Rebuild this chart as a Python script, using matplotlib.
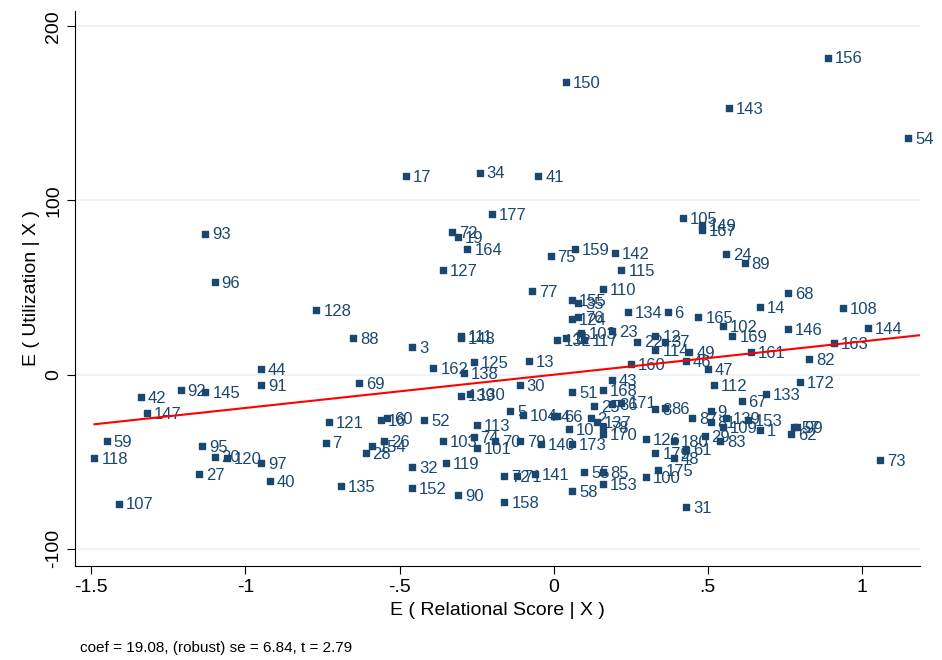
import numpy as np
import matplotlib.pyplot as plt

plt.rcParams['font.family'] = ['Liberation Sans', 'DejaVu Sans']

# added-variable plot: residuals of Utilization vs residuals of Relational Score
labels = [156, 150, 143, 54, 17, 34, 41, 177, 93, 105, 149, 167, 72, 19, 164, 159, 75, 142, 24, 89,
          115, 127, 96, 110, 77, 68, 14, 108, 128, 155, 35, 124, 76, 134, 6, 165, 102, 146, 144, 163,
          169, 88, 111, 148, 3, 23, 103, 132, 11, 117, 22, 12, 37, 114, 49, 46, 160, 47, 161, 82,
          44, 91, 162, 125, 138, 13, 30, 69, 172, 42, 92, 145, 147, 43, 51, 168, 112, 67, 133, 139,
          130, 5, 104, 4, 66, 25, 36, 171, 8, 86, 9, 139, 81, 109, 153, 1, 57, 99, 62, 87,
          2, 137, 10, 78, 170, 126, 173, 140, 79, 113, 52, 121, 16, 60, 7, 26, 154, 28, 103, 74,
          101, 70, 32, 119, 72, 71, 141, 135, 152, 90, 158, 58, 55, 85, 153, 100, 31, 175, 180, 179,
          48, 61, 29, 83, 59, 118, 107, 95, 27, 20, 120, 97, 40, 84, 73]
rel_score = [0.89, 0.04, 0.57, 1.15, -0.48, -0.24, -0.05, -0.20, -1.13, 0.42, 0.48, 0.48, -0.33, -0.31, -0.28, 0.07, -0.01, 0.20, 0.56, 0.62,
             0.22, -0.36, -1.10, 0.16, -0.07, 0.76, 0.67, 0.94, -0.77, 0.06, 0.08, 0.06, 0.08, 0.24, 0.37, 0.47, 0.55, 0.76, 1.02, 0.91,
             0.58, -0.65, -0.30, -0.30, -0.46, 0.19, 0.09, 0.01, 0.04, 0.10, 0.27, 0.33, 0.36, 0.33, 0.44, 0.43, 0.25, 0.50, 0.64, 0.83,
             -0.95, -0.95, -0.39, -0.26, -0.29, -0.08, -0.11, -0.63, 0.80, -1.34, -1.21, -1.13, -1.32, 0.19, 0.06, 0.16, 0.52, 0.61, 0.69, -0.30,
             -0.27, -0.14, -0.10, 0.00, 0.01, 0.13, 0.19, 0.22, 0.33, 0.36, 0.51, 0.56, 0.51, 0.55, 0.63, 0.67, 0.78, 0.79, 0.77, 0.45,
             0.12, 0.14, 0.05, 0.16, 0.16, 0.30, 0.06, -0.04, -0.11, -0.25, -0.42, -0.73, -0.56, -0.54, -0.74, -0.55, -0.59, -0.61, -0.36, -0.26,
             -0.25, -0.19, -0.46, -0.35, -0.16, -0.12, -0.06, -0.69, -0.46, -0.31, -0.16, 0.06, 0.10, 0.16, 0.16, 0.30, 0.43, 0.34, 0.39, 0.33,
             0.39, 0.43, 0.49, 0.54, -1.45, -1.49, -1.41, -1.14, -1.15, -1.10, -1.06, -0.95, -0.92, 1.23, 1.06]
utilization = [182, 168, 153, 136, 114, 116, 114, 92, 81, 90, 86, 83, 82, 79, 72, 72, 68, 70, 69, 64,
               60, 60, 53, 49, 48, 47, 39, 38, 37, 43, 41, 32, 33, 36, 36, 33, 28, 26, 27, 18,
               22, 21, 22, 21, 16, 25, 24, 20, 21, 20, 19, 22, 19, 14, 13, 8, 6, 3, 13, 9,
               3, -6, 4, 7, 1, 8, -6, -5, -4, -13, -9, -10, -22, -3, -10, -9, -6, -15, -11, -12,
               -11, -21, -23, -24, -24, -18, -17, -16, -20, -19, -21, -25, -27, -30, -26, -32, -30, -30, -34, -25,
               -25, -27, -31, -30, -34, -37, -40, -40, -38, -29, -26, -27, -26, -25, -39, -38, -41, -45, -38, -36,
               -42, -38, -53, -51, -58, -58, -57, -64, -65, -69, -73, -67, -56, -56, -63, -59, -76, -55, -38, -45,
               -48, -43, -35, -38, -38, -48, -74, -41, -57, -47, -48, -51, -61, -36, -49]

coef = 19.08
x = np.array(rel_score)
y = np.array(utilization)
intercept = y.mean() - coef * x.mean()

navy = '#1a476f'
fig = plt.figure(figsize=(9.42, 6.6), dpi=100)
ax = fig.add_axes([0.08, 0.142, 0.897, 0.842])

for v in [-100, 0, 100, 200]:
    ax.axhline(v, color='#eaf2f3', lw=1.2, zorder=0)

ax.scatter(x, y, marker='s', s=22, color=navy, zorder=3)
for lab, xi, yi in zip(labels, x, y):
    ax.annotate(str(lab), (xi, yi), xytext=(5, -1), textcoords='offset points',
                va='center', ha='left', fontsize=12, color=navy, zorder=3)

xs = np.array([x.min(), x.max()])
ax.plot(xs, intercept + coef * xs, color='red', lw=1.5, zorder=4)

ax.set_xlim(-1.552, 1.19)
ax.set_ylim(-110, 209)
ax.set_xticks([-1.5, -1, -0.5, 0, 0.5, 1])
ax.set_xticklabels(['-1.5', '-1', '-.5', '0', '.5', '1'])
ax.set_yticks([-100, 0, 100, 200])
ax.set_yticklabels(['-100', '0', '100', '200'], rotation=90, va='center')
ax.tick_params(labelsize=14, length=6, direction='out')
for s in ['top', 'right']:
    ax.spines[s].set_visible(False)
ax.set_xlabel('E ( Relational Score | X )', fontsize=14)
ax.set_ylabel('E ( Utilization | X )', fontsize=14)
fig.text(0.085, 0.012, 'coef = 19.08, (robust) se = 6.84, t = 2.79', fontsize=11)

fig.savefig('out.png', dpi=100)
